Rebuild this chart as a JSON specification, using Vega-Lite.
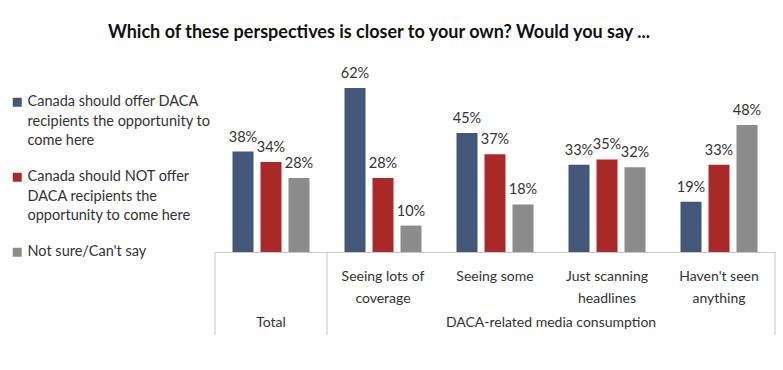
{
  "$schema": "https://vega.github.io/schema/vega-lite/v6.json",
  "autosize": "none",
  "width": 560,
  "height": 192,
  "padding": {"left": 215, "top": 60, "right": 8, "bottom": 118},
  "background": "white",
  "title": {
    "text": "Which of these perspectives is closer to your own? Would you say ...",
    "font": "Lato",
    "fontSize": 18,
    "fontWeight": "bold",
    "color": "#111111",
    "anchor": "middle",
    "dx": -116,
    "offset": 18
  },
  "config": {
    "view": {"stroke": null},
    "font": "Lato",
    "style": {"guide-label": {"lineHeight": 19.5}}
  },
  "datasets": {
    "bars": [
      {"group": "Total", "series": "Canada should offer DACA recipients the opportunity to come here", "value": 38},
      {"group": "Total", "series": "Canada should NOT offer DACA recipients the opportunity to come here", "value": 34},
      {"group": "Total", "series": "Not sure/Can't say", "value": 28},
      {"group": "Seeing lots of coverage", "series": "Canada should offer DACA recipients the opportunity to come here", "value": 62},
      {"group": "Seeing lots of coverage", "series": "Canada should NOT offer DACA recipients the opportunity to come here", "value": 28},
      {"group": "Seeing lots of coverage", "series": "Not sure/Can't say", "value": 10},
      {"group": "Seeing some", "series": "Canada should offer DACA recipients the opportunity to come here", "value": 45},
      {"group": "Seeing some", "series": "Canada should NOT offer DACA recipients the opportunity to come here", "value": 37},
      {"group": "Seeing some", "series": "Not sure/Can't say", "value": 18},
      {"group": "Just scanning headlines", "series": "Canada should offer DACA recipients the opportunity to come here", "value": 33},
      {"group": "Just scanning headlines", "series": "Canada should NOT offer DACA recipients the opportunity to come here", "value": 35},
      {"group": "Just scanning headlines", "series": "Not sure/Can't say", "value": 32},
      {"group": "Haven't seen anything", "series": "Canada should offer DACA recipients the opportunity to come here", "value": 19},
      {"group": "Haven't seen anything", "series": "Canada should NOT offer DACA recipients the opportunity to come here", "value": 33},
      {"group": "Haven't seen anything", "series": "Not sure/Can't say", "value": 48}
    ]
  },
  "layer": [
    {
      "data": {"name": "bars"},
      "mark": {"type": "bar"},
      "encoding": {
        "x": {
          "field": "group", "type": "nominal", "sort": null,
          "scale": {"domain": ["Total", "Seeing lots of coverage", "Seeing some", "Just scanning headlines", "Haven't seen anything"], "paddingInner": 0, "paddingOuter": 0},
          "axis": {
            "title": null, "ticks": false, "labelAngle": 0,
            "labelFont": "Lato", "labelFontSize": 14, "labelColor": "#333333",
            "labelPadding": 17, "labelLineHeight": 22, "labelBaseline": "top",
            "domainColor": "#c8c8c8", "labelLimit": 200,
            "labelExpr": "datum.label == 'Total' ? '' : datum.label == 'Seeing lots of coverage' ? ['Seeing lots of', 'coverage'] : datum.label == 'Just scanning headlines' ? ['Just scanning', 'headlines'] : datum.label == 'Seeing some' ? 'Seeing some' : [\"Haven't seen\", 'anything']"
          }
        },
        "xOffset": {
          "field": "series", "type": "nominal", "sort": null,
          "scale": {"domain": ["Canada should offer DACA recipients the opportunity to come here", "Canada should NOT offer DACA recipients the opportunity to come here", "Not sure/Can't say"], "paddingInner": 0.25, "paddingOuter": 0.625}
        },
        "y": {
          "field": "value", "type": "quantitative",
          "scale": {"domain": [0, 72.6], "nice": false, "zero": true},
          "axis": null
        },
        "color": {
          "field": "series", "type": "nominal",
          "scale": {"domain": ["Canada should offer DACA recipients the opportunity to come here", "Canada should NOT offer DACA recipients the opportunity to come here", "Not sure/Can't say"], "range": ["#42577a", "#aa2a2a", "#8c8c8c"]},
          "legend": {
            "title": null, "orient": "none", "legendX": -205, "legendY": 35,
            "symbolType": "square", "symbolSize": 81, "symbolStrokeWidth": 0,
            "labelFont": "Lato", "labelFontSize": 14.5, "labelColor": "#333333",
            "labelLimit": 300, "rowPadding": 21, "labelOffset": 3,
            "labelExpr": "datum.label == 'Canada should NOT offer DACA recipients the opportunity to come here' ? ['Canada should NOT offer', 'DACA recipients the', 'opportunity to come here'] : datum.label == 'Canada should offer DACA recipients the opportunity to come here' ? ['Canada should offer DACA', 'recipients the opportunity to', 'come here'] : datum.label"
          }
        }
      }
    },
    {
      "data": {"name": "bars"},
      "transform": [{"calculate": "datum.value + '%'", "as": "label"}],
      "mark": {"type": "text", "baseline": "bottom", "dy": -7, "font": "Lato", "fontSize": 14.5, "color": "#333333"},
      "encoding": {
        "x": {"field": "group", "type": "nominal", "sort": null},
        "xOffset": {"field": "series", "type": "nominal", "sort": null},
        "y": {"field": "value", "type": "quantitative"},
        "text": {"field": "label", "type": "nominal"},
        "color": {"value": "#333333"}
      }
    },
    {
      "data": {"values": [{"group": "Total"}, {"group": "Seeing lots of coverage"}]},
      "mark": {"type": "rule", "color": "#c8c8c8", "strokeWidth": 1},
      "encoding": {
        "x": {"field": "group", "type": "nominal", "bandPosition": 0, "sort": null},
        "y": {"datum": 0},
        "y2": {"datum": -31.4}
      }
    },
    {
      "data": {"values": [{"group": "Haven't seen anything"}]},
      "mark": {"type": "rule", "color": "#c8c8c8", "strokeWidth": 1},
      "encoding": {
        "x": {"field": "group", "type": "nominal", "bandPosition": 1, "sort": null},
        "y": {"datum": 0},
        "y2": {"datum": -31.4}
      }
    },
    {
      "data": {"values": [{"group": "Total", "tier": "Total"}]},
      "mark": {"type": "text", "font": "Lato", "fontSize": 14, "color": "#333333", "baseline": "middle"},
      "encoding": {
        "x": {"field": "group", "type": "nominal", "sort": null},
        "y": {"datum": -26.8},
        "text": {"field": "tier"}
      }
    },
    {
      "data": {"values": [{"group": "Just scanning headlines", "tier": "DACA-related media consumption"}]},
      "mark": {"type": "text", "font": "Lato", "fontSize": 14, "color": "#333333", "baseline": "middle"},
      "encoding": {
        "x": {"field": "group", "type": "nominal", "bandPosition": 0, "sort": null},
        "y": {"datum": -26.8},
        "text": {"field": "tier"}
      }
    }
  ]
}
